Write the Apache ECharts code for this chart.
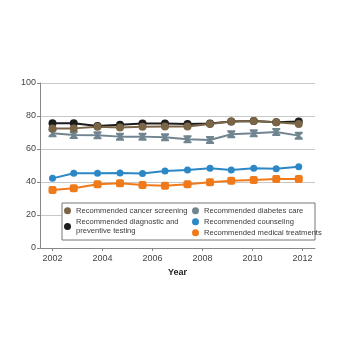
<!DOCTYPE html>
<html>
<head>
<meta charset="utf-8">
<script src="https://cdn.jsdelivr.net/npm/echarts@6/dist/echarts.min.js"></script>
<style>
  html, body { margin: 0; padding: 0; background: #fff; }
  #main { width: 350px; height: 350px; }
</style>
</head>
<body>
<div id="main"></div>
<script>
// survey years (points sit a bit off the year ticks)
var years = [2002, 2002.85, 2003.8, 2004.7, 2005.6, 2006.5, 2007.4, 2008.3, 2009.15, 2010.05, 2010.95, 2011.85]
var tickYears = [2002, 2004, 2006, 2008, 2010, 2012]

var cancer = [72.5, 72.5, 73.5, 73.1, 73.5, 73.7, 73.7, 75.2, 76.6, 77, 76.2, 75.2]
var diagnostic = [75.6, 75.6, 73.9, 74.7, 75.4, 75.4, 75.2, 75.4, 76.6, 77, 76.2, 76.6]
var diabetes = [69.5, 68.5, 68.3, 67.5, 67.5, 67.1, 65.9, 65.5, 68.9, 69.5, 70.3, 68.1]
var counseling = [42.2, 45.3, 45.3, 45.5, 45.1, 46.7, 47.3, 48.3, 47.3, 48.3, 48.1, 49.3]
var medical = [35.2, 36.2, 38.6, 39.2, 38.2, 37.8, 38.6, 39.8, 40.8, 41.2, 41.8, 41.8]

function pairs(vals) {
  return vals.map(function (v, i) { return [years[i], v] })
}

var font = 'Liberation Sans'
var hourglass = 'path://M0,0 L10,0 L10,2 L6.5,5 L10,8 L10,10 L0,10 L0,8 L3.5,5 L0,2 Z'

function line(name, data, color, symbol, size) {
  return {
    name: name,
    type: 'line',
    data: pairs(data),
    symbol: symbol,
    symbolSize: size,
    lineStyle: { color: color, width: 2 },
    itemStyle: { color: color },
    emphasis: { disabled: true },
  }
}

var legendText = { fontFamily: font, fontSize: 7.6, color: '#3a3a3a', lineHeight: 9.5 }

var myChart = echarts.init(document.getElementById('main'))
var option = {
  animation: false,
  grid: { left: 40, right: 35, top: 83, bottom: 102 },
  xAxis: {
    type: 'value',
    min: 2001.5,
    max: 2012.5,
    name: 'Year',
    nameLocation: 'middle',
    nameGap: 20,
    nameTextStyle: { fontFamily: font, fontSize: 9, color: '#222', fontWeight: 'bold' },
    axisLine: { show: true, lineStyle: { color: '#888' } },
    axisTick: { show: true, length: 3, customValues: tickYears, lineStyle: { color: '#888' } },
    axisLabel: {
      customValues: tickYears,
      formatter: function (v) { return String(v) },
      fontFamily: font, fontSize: 9, color: '#444', margin: 6,
    },
    splitLine: { show: false },
  },
  yAxis: {
    type: 'value',
    min: 0,
    max: 100,
    interval: 20,
    axisLine: { show: true, lineStyle: { color: '#888' } },
    axisTick: { show: true, length: 3, lineStyle: { color: '#888' } },
    axisLabel: { fontFamily: font, fontSize: 9, color: '#444', margin: 4 },
    splitLine: { lineStyle: { color: '#c8c8c8' } },
  },
  graphic: [{
    type: 'rect',
    z: 3,
    shape: { x: 62, y: 203, width: 253, height: 37 },
    style: { fill: '#fff', stroke: '#777', lineWidth: 1 },
  }],
  legend: [{
    orient: 'vertical',
    left: 64,
    top: 206,
    z: 5,
    itemGap: 1.5,
    itemWidth: 7,
    itemHeight: 7,
    icon: 'circle',
    padding: 0,
    textStyle: legendText,
    data: ['Recommended cancer screening', 'Recommended diagnostic and\npreventive testing'],
  }, {
    orient: 'vertical',
    left: 192,
    top: 206,
    z: 5,
    itemGap: 1.5,
    itemWidth: 7,
    itemHeight: 7,
    icon: 'circle',
    padding: 0,
    textStyle: legendText,
    data: ['Recommended diabetes care', 'Recommended counseling', 'Recommended medical treatments'],
  }],
  series: [
    line('Recommended diabetes care', diabetes, '#718591', hourglass, 8),
    line('Recommended counseling', counseling, '#2b87c5', 'circle', 7),
    line('Recommended medical treatments', medical, '#f07a1a', 'roundRect', 8),
    line('Recommended diagnostic and\npreventive testing', diagnostic, '#1c1c1c', 'circle', 8),
    line('Recommended cancer screening', cancer, '#7b6547', 'circle', 8),
  ],
}
myChart.setOption(option)
</script>
</body>
</html>
